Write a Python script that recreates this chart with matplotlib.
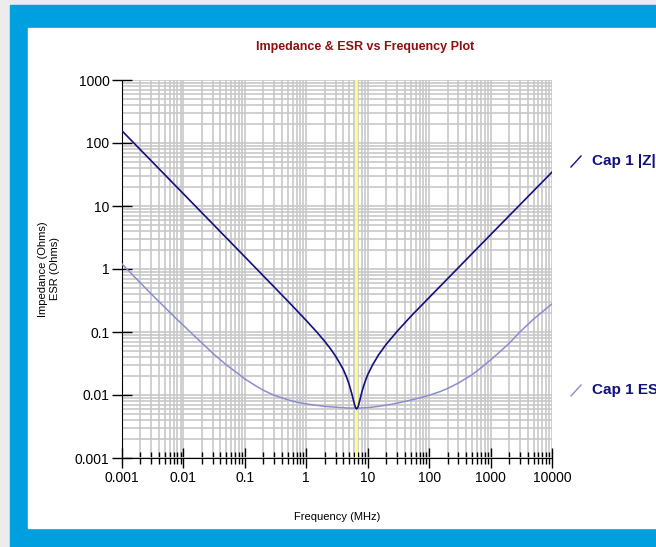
import matplotlib
matplotlib.use("Agg")
import matplotlib.pyplot as plt
from matplotlib.patches import Rectangle
from matplotlib.lines import Line2D
from matplotlib.ticker import FixedLocator, NullFormatter

# frequency (MHz) and values (Ohms)
z_freq = [0.001, 0.01, 0.1, 0.5, 1, 1.5, 2, 2.5, 3, 3.5, 4, 4.5, 5, 5.5, 5.8, 6, 6.15,
          6.3, 6.45, 6.6, 6.8, 7, 7.2, 7.5, 8, 8.5, 9, 10, 12, 15, 20, 30, 50, 100,
          1000, 10000]
z_vals = [156, 15.6, 1.56, 0.31, 0.152, 0.0986, 0.0708, 0.0535, 0.0413, 0.0321,
          0.0254, 0.0195, 0.0146, 0.0105, 0.0086, 0.0075, 0.0069, 0.0064, 0.0061,
          0.006, 0.0062, 0.0066, 0.0073, 0.0085, 0.011, 0.0135, 0.016, 0.021,
          0.030, 0.0433, 0.0638, 0.102, 0.176, 0.352, 3.5, 34.5]

esr_freq = [0.001, 0.0015, 0.002, 0.003, 0.005, 0.007, 0.01, 0.015, 0.02, 0.03, 0.05,
            0.07, 0.1, 0.15, 0.2, 0.3, 0.5, 0.7, 1, 2, 3, 5, 7, 10, 15, 20, 30, 50,
            70, 100, 150, 200, 300, 500, 700, 1000, 1500, 2000, 3000, 5000, 7000,
            10000]
esr_vals = [1.2, 0.8, 0.6, 0.40, 0.245, 0.177, 0.127, 0.087, 0.067, 0.046, 0.030,
            0.0235, 0.018, 0.014, 0.0119, 0.0099, 0.0084, 0.0077, 0.0072, 0.0066,
            0.0064, 0.0062, 0.0062, 0.0063, 0.0066, 0.0069, 0.0074, 0.0083, 0.009,
            0.0099, 0.0113, 0.0127, 0.0155, 0.021, 0.027, 0.036, 0.051, 0.066, 0.1,
            0.16, 0.21, 0.28]

marker_freq = 6.5

x_ticks = [0.001, 0.01, 0.1, 1, 10, 100, 1000, 10000]
x_labels = ["0.001", "0.01", "0.1", "1", "10", "100", "1000", "10000"]
y_ticks = [0.001, 0.01, 0.1, 1, 10, 100, 1000]
y_labels = ["0.001", "0.01", "0.1", "1", "10", "100", "1000"]

plt.rcParams['font.family'] = ['Liberation Sans', 'DejaVu Sans']

W, H = 656, 547
fig = plt.figure(figsize=(W / 100, H / 100), dpi=100, facecolor='#ececec')

# frame: blue border and white panel
fig.patches.append(Rectangle((10 / W, 0), 1, (H - 5) / H, transform=fig.transFigure,
                             color='#009fe0', zorder=-10))
fig.patches.append(Rectangle((28 / W, (H - 528) / H), 1, (528 - 28) / H,
                             transform=fig.transFigure, color='white', zorder=-9))

ax = fig.add_axes([122 / W, (H - 458) / H, 430 / W, 378 / H])
ax.set_facecolor('none')
ax.set_xscale('log')
ax.set_yscale('log')
ax.set_xlim(0.001, 10000)
ax.set_ylim(0.001, 1000)

minor = [m * 10.0 ** e for e in range(-3, 5) for m in range(2, 10)]
ax.xaxis.set_major_locator(FixedLocator(x_ticks))
ax.xaxis.set_minor_locator(FixedLocator(minor))
ax.yaxis.set_major_locator(FixedLocator(y_ticks))
ax.yaxis.set_minor_locator(FixedLocator(minor))
ax.set_xticklabels(x_labels)
ax.set_yticklabels(y_labels)
ax.xaxis.set_minor_formatter(NullFormatter())
ax.yaxis.set_minor_formatter(NullFormatter())

ax.grid(True, which='both', color='#c8c8c8', linewidth=1.2, zorder=0)
ax.set_axisbelow(True)
ax.tick_params(axis='both', which='major', direction='inout', length=14, width=1,
               labelsize=10, pad=2)
ax.tick_params(axis='x', which='minor', direction='inout', length=8, width=1)
ax.tick_params(axis='y', which='minor', length=0)
for s in ['top', 'right']:
    ax.spines[s].set_visible(False)

ax.axvline(marker_freq, color='#ffff80', linewidth=2, zorder=1)
ax.plot(esr_freq, esr_vals, color='#8c8cd0', linewidth=1.1, zorder=3)
ax.plot(z_freq, z_vals, color='#10107f', linewidth=1.2, zorder=4)

ax.set_xlabel('Frequency (MHz)', fontsize=8, labelpad=20)
ax.set_ylabel('Impedance (Ohms)\nESR (Ohms)', fontsize=8, labelpad=11)

fig.text(365 / W, 1 - 47 / H, 'Impedance & ESR vs Frequency Plot', ha='center', va='center',
         fontsize=9, fontweight='bold', color='#8b1010')

# legend entries on the right
legend = [('Cap 1 |Z|', '#10107f', 161), ('Cap 1 ESR', '#8c8cd0', 390)]
for label, col, yc in legend:
    fig.add_artist(Line2D([571 / W, 581 / W], [1 - (yc + 6) / H, 1 - (yc - 5) / H],
                          transform=fig.transFigure, color=col, linewidth=1))
    fig.text(592 / W, 1 - yc / H, label, ha='left', va='center', fontsize=11,
             fontweight='bold', color='#10107f')

fig.savefig('out.png', dpi=100, facecolor=fig.get_facecolor())
